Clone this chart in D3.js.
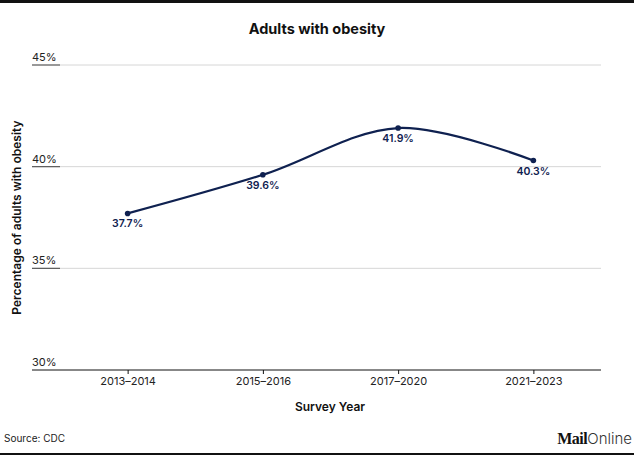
<!DOCTYPE html>
<html>
<head>
<meta charset="utf-8">
<script src="https://cdn.jsdelivr.net/npm/d3@7"></script>
<style>
  html, body { margin: 0; padding: 0; background: #fff; }
  svg { display: block; font-family: Inter, "Noto Sans", sans-serif; }
</style>
</head>
<body>
<svg id="chart" width="634" height="459"></svg>
<script>
const categories = ["2013–2014", "2015–2016", "2017–2020", "2021–2023"];
const values = [37.7, 39.6, 41.9, 40.3];
const yTicks = [30, 35, 40, 45];

const svg = d3.select("#chart");
const W = 634, H = 459;
const lineColor = "#0f2150";

// frame lines
svg.append("rect").attr("x", 0).attr("y", 0).attr("width", W).attr("height", 3).attr("fill", "#111");
svg.append("rect").attr("x", 0).attr("y", 453).attr("width", W).attr("height", 2).attr("fill", "#111");

const x = d3.scalePoint().domain(categories).range([60, 601]).padding(0.5);
const y = d3.scaleLinear().domain([30, 45]).range([370, 65]);

// title
svg.append("text").attr("x", 317).attr("y", 34).attr("text-anchor", "middle")
  .attr("font-size", 14.5).attr("font-weight", 700).attr("fill", "#111").text("Adults with obesity");

// gridlines
const gy = svg.append("g");
yTicks.forEach(t => {
  if (t === 30) return;
  gy.append("line").attr("x1", 60).attr("x2", 601).attr("y1", y(t)).attr("y2", y(t))
    .attr("stroke", "#d6d6d6").attr("stroke-width", 1);
  gy.append("line").attr("x1", 32).attr("x2", 60).attr("y1", y(t)).attr("y2", y(t))
    .attr("stroke", "#555").attr("stroke-width", 1.2);
});
gy.selectAll("text.ylab").data(yTicks).join("text").attr("class", "ylab")
  .attr("x", 32).attr("y", d => y(d) - 4)
  .attr("font-size", 11).attr("fill", "#222").text(d => d + "%");

// x axis
svg.append("line").attr("x1", 32).attr("x2", 601).attr("y1", y(30)).attr("y2", y(30))
  .attr("stroke", "#111").attr("stroke-width", 1);
const xAxis = d3.axisBottom(x).tickSize(4).tickPadding(3);
const gx = svg.append("g").attr("transform", `translate(0,${y(30)})`).call(xAxis);
gx.select(".domain").remove();
gx.selectAll(".tick line").attr("stroke", "#111");
gx.selectAll(".tick text").attr("font-size", 11).attr("fill", "#222")
  .attr("font-family", "Inter, sans-serif").attr("dy", "0.71em").attr("y", 7);

// axis titles
svg.append("text").attr("x", 330).attr("y", 411).attr("text-anchor", "middle")
  .attr("font-size", 12).attr("font-weight", 600).attr("fill", "#111").text("Survey Year");
svg.append("text").attr("transform", `translate(21,${(y(30) + y(45)) / 2}) rotate(-90)`)
  .attr("text-anchor", "middle").attr("font-size", 12).attr("font-weight", 600)
  .attr("fill", "#111").text("Percentage of adults with obesity");

// line
const data = categories.map((c, i) => ({ c, v: values[i] }));
const line = d3.line().x(d => x(d.c)).y(d => y(d.v)).curve(d3.curveCatmullRom);
svg.append("path").datum(data).attr("d", line).attr("fill", "none")
  .attr("stroke", lineColor).attr("stroke-width", 2.2);
svg.selectAll("circle.pt").data(data).join("circle").attr("class", "pt")
  .attr("cx", d => x(d.c)).attr("cy", d => y(d.v)).attr("r", 2.8).attr("fill", lineColor);
svg.selectAll("text.val").data(data).join("text").attr("class", "val")
  .attr("x", d => x(d.c)).attr("y", d => y(d.v) + 14).attr("text-anchor", "middle")
  .attr("font-size", 10.5).attr("font-weight", 600).attr("fill", lineColor)
  .text(d => d.v.toFixed(1) + "%");

// source
svg.append("text").attr("x", 4).attr("y", 442).attr("font-size", 10).attr("fill", "#222").text("Source: CDC");

// logo
const logo = svg.append("text").attr("x", 632).attr("y", 444).attr("text-anchor", "end").attr("fill", "#111");
logo.append("tspan").attr("font-family", "'Liberation Serif', 'DejaVu Serif', serif")
  .attr("font-weight", 700).attr("font-size", 16).attr("letter-spacing", -0.5).text("Mail");
logo.append("tspan").attr("font-family", "Inter, sans-serif").attr("font-weight", 300)
  .attr("font-size", 15).attr("fill", "#333").text("Online");
</script>
</body>
</html>
